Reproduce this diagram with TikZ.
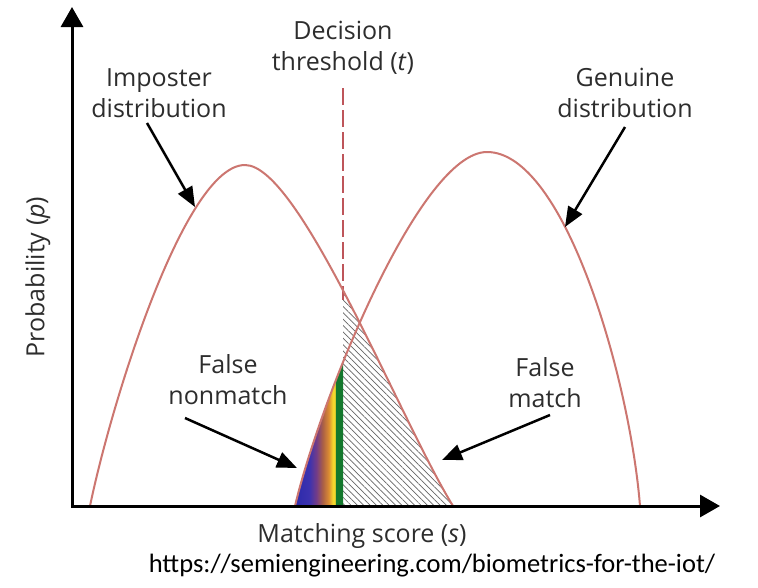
\documentclass[tikz,border=0pt]{standalone}
\usepackage{fontspec}
\setmainfont{Open Sans}
\newfontfamily\urlfont{Carlito}
\usetikzlibrary{arrows.meta,patterns.meta}
\definecolor{curvec}{RGB}{204,118,112}
\definecolor{thrc}{RGB}{190,85,90}
\definecolor{txt}{RGB}{45,45,45}
\definecolor{sbA}{RGB}{40,40,170}
\definecolor{sbB}{RGB}{60,50,175}
\definecolor{sbC}{RGB}{115,60,135}
\definecolor{sbD}{RGB}{170,95,70}
\definecolor{sbE}{RGB}{220,140,50}
\definecolor{sbF}{RGB}{245,215,45}
\definecolor{sbG}{RGB}{20,120,45}
% visible part of a shading on a path is 25bp..75bp
\pgfdeclarehorizontalshading{fnshade}{100bp}{color(0bp)=(sbA); color(25bp)=(sbA); color(42bp)=(sbB); color(49bp)=(sbC); color(55bp)=(sbD); color(61bp)=(sbE); color(65bp)=(sbF); color(67bp)=(sbF); color(68bp)=(sbG); color(75bp)=(sbG); color(100bp)=(sbG)}
\begin{document}
\begin{tikzpicture}[x=1pt,y=-1pt,
  lbl/.style={text=txt,font=\fontsize{25}{31}\selectfont,align=center,inner sep=0pt},
  curve/.style={draw=curvec,line width=2pt},
  axisline/.style={line width=3pt,{Triangle[length=20pt,width=22pt]}-{Triangle[length=20pt,width=22pt]}},
  pointer/.style={line width=2.5pt,-{Triangle[length=20pt,width=16pt]}}]
\useasboundingbox[fill=white] (0,0) rectangle (758,587);

% hatched false-match region
\begin{scope}
\clip (343,0) rectangle (760,506);
\path[pattern={Lines[angle=-45,distance=4.5pt,line width=0.7pt]},pattern color=black!60]
  (90,506) .. controls (112,400) and (185,165) .. (245,165)
  .. controls (300,165) and (400,420) .. (453,506) -- cycle;
\end{scope}

% coloured false-nonmatch region
\begin{scope}
\clip (0,0) rectangle (343,506);
\clip (295,506) .. controls (320,400) and (420,152) .. (487,152)
  .. controls (565,152) and (630,380) .. (640,506) -- cycle;
\shade[shading=fnshade] (292,340) rectangle (343,506);
\end{scope}

% threshold
\coordinate (thrtop) at (343,88);
\coordinate (thrbot) at (343,300);
\draw[thrc,line width=2pt,dash pattern=on 17pt off 5pt] (thrtop) -- (thrbot);

% distributions
\draw[curve] (90,506) .. controls (112,400) and (185,165) .. (245,165)
  .. controls (300,165) and (400,420) .. (453,506);
\draw[curve] (295,506) .. controls (320,400) and (420,152) .. (487,152)
  .. controls (565,152) and (630,380) .. (640,506);

% axes
\coordinate (O) at (72,506);
\coordinate (ytip) at (72,7);
\coordinate (xtip) at (720,506);
\draw[axisline] (ytip) -- (O) -- (xtip);

% labels
\node[lbl] (thr) at (343,48) {Decision\\threshold (\textit{t})};
\node[lbl] (imp) at (159,93) {Imposter\\distribution};
\node[lbl] (gen) at (625,93) {Genuine\\distribution};
\node[lbl] (fnm) at (228,380) {False\\nonmatch};
\node[lbl] (fm) at (545,383) {False\\match};
\node[lbl,rotate=90] (ylab) at (38,277) {Probability (\textit{p})};
\node[lbl] (xlab) at (362,536) {Matching score (\textit{s})};
\node[text=black,font=\urlfont\fontsize{26.5}{30}\selectfont,inner sep=0pt] (url) at (432,566) {https://semiengineering.com/biometrics-for-the-iot/};

% pointers
\coordinate (impA) at (147,123);
\coordinate (impB) at (195,207);
\coordinate (genA) at (625,127);
\coordinate (genB) at (565,227);
\coordinate (fnmA) at (185,418);
\coordinate (fnmB) at (297,468);
\coordinate (fmA) at (550,415);
\coordinate (fmB) at (442,460);
\draw[pointer] (impA) -- (impB);
\draw[pointer] (genA) -- (genB);
\draw[pointer] (fnmA) -- (fnmB);
\draw[pointer] (fmA) -- (fmB);
\end{tikzpicture}
\end{document}
